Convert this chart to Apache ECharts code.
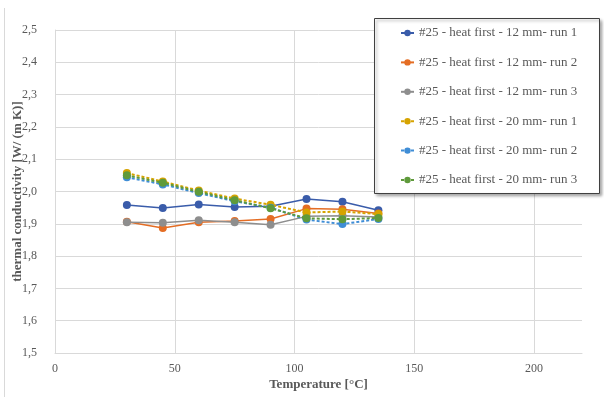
<!DOCTYPE html>
<html>
<head>
<meta charset="utf-8">
<script src="https://cdn.jsdelivr.net/npm/echarts@6/dist/echarts.min.js"></script>
<style>
  html, body { margin: 0; padding: 0; background: #ffffff; }
  #chart { width: 604px; height: 397px; }
</style>
</head>
<body>
<div id="chart"></div>
<script>
// Measurement temperatures [°C]
const temperatures = [30, 45, 60, 75, 90, 105, 120, 135];

// Thermal conductivity [W/(m K)] per run
const heat12Run1 = [1.958, 1.949, 1.960, 1.952, 1.954, 1.977, 1.968, 1.942];
const heat12Run2 = [1.906, 1.887, 1.905, 1.909, 1.915, 1.947, 1.945, 1.932];
const heat12Run3 = [1.905, 1.903, 1.911, 1.905, 1.897, 1.923, 1.925, 1.921];
const heat20Run1 = [2.057, 2.031, 2.003, 1.978, 1.959, 1.935, 1.938, 1.930];
const heat20Run2 = [2.044, 2.022, 1.995, 1.970, 1.950, 1.913, 1.899, 1.915];
const heat20Run3 = [2.050, 2.027, 1.999, 1.973, 1.948, 1.917, 1.914, 1.918];

const seriesNames = [
  '#25 - heat first - 12 mm- run 1',
  '#25 - heat first - 12 mm- run 2',
  '#25 - heat first - 12 mm- run 3',
  '#25 - heat first - 20 mm- run 1',
  '#25 - heat first - 20 mm- run 2',
  '#25 - heat first - 20 mm- run 3'
];
const seriesValues = [heat12Run1, heat12Run2, heat12Run3, heat20Run1, heat20Run2, heat20Run3];
const seriesColors = ['#3a5caa', '#e46d24', '#8e8e8e', '#d6a300', '#3f8dd6', '#5f9a3b'];
const dashedSeries = [false, false, false, true, true, true];

// Axis ticks
const xTicks = [0, 50, 100, 150, 200];
const yTicks = [1.5, 1.6, 1.7, 1.8, 1.9, 2.0, 2.1, 2.2, 2.3, 2.4, 2.5];

const fontFamily = '"Liberation Serif", "DejaVu Serif", serif';
const textGray = '#595959';
const gridGray = '#d9d9d9';

const chart = echarts.init(document.getElementById('chart'), null, { renderer: 'canvas' });

const series = seriesValues.map((vals, i) => ({
  name: seriesNames[i],
  type: 'line',
  data: temperatures.map((t, k) => [t, vals[k]]),
  symbol: 'circle',
  symbolSize: 8,
  showSymbol: true,
  itemStyle: { color: seriesColors[i] },
  lineStyle: {
    color: seriesColors[i],
    width: dashedSeries[i] ? 2 : 1.5,
    type: dashedSeries[i] ? [3, 2] : 'solid'
  },
  emphasis: { disabled: true },
  animation: false,
  z: 2 + i
}));

chart.setOption({
  animation: false,
  backgroundColor: '#ffffff',
  textStyle: { fontFamily: fontFamily },
  grid: { left: 55, right: 22, top: 30, bottom: 44, containLabel: false, outerBoundsMode: 'none' },
  xAxis: {
    type: 'value',
    min: xTicks[0],
    max: 220,
    interval: xTicks[1] - xTicks[0],
    name: 'Temperature [°C]',
    nameLocation: 'middle',
    nameGap: 25,
    nameMoveOverlap: false,
    nameTextStyle: { color: textGray, fontWeight: 'bold', fontSize: 13, fontFamily: fontFamily },
    axisLine: { show: true, lineStyle: { color: gridGray, width: 1 } },
    axisTick: { show: false },
    axisLabel: {
      color: textGray, fontSize: 12, fontFamily: fontFamily, margin: 10,
      showMaxLabel: false,
      formatter: v => (xTicks.indexOf(v) >= 0 ? String(v) : '')
    },
    splitLine: { show: true, showMaxLine: false, lineStyle: { color: gridGray, width: 1 } }
  },
  yAxis: {
    type: 'value',
    min: yTicks[0],
    max: yTicks[yTicks.length - 1],
    interval: 0.1,
    name: 'thermal conductivity [W/ (m K)]',
    nameLocation: 'middle',
    nameGap: 31,
    nameRotate: 90,
    nameMoveOverlap: false,
    nameTextStyle: { color: textGray, fontWeight: 'bold', fontSize: 13, fontFamily: fontFamily },
    axisLine: { show: true, lineStyle: { color: gridGray, width: 1 } },
    axisTick: { show: false },
    axisLabel: {
      color: textGray, fontSize: 12, fontFamily: fontFamily, margin: 18,
      formatter: v => v.toFixed(1).replace('.', ',')
    },
    splitLine: { show: true, lineStyle: { color: gridGray, width: 1 } }
  },
  legend: {
    orient: 'vertical',
    left: 400,
    top: 26,
    padding: 0,
    itemWidth: 13,
    itemHeight: 8,
    itemGap: 15.4,
    selectedMode: false,
    textStyle: { color: textGray, fontSize: 13, fontFamily: fontFamily, lineHeight: 14 },
    data: seriesNames,
    z: 6
  },
  graphic: [
    {
      type: 'line',
      shape: { x1: 4.5, y1: 8, x2: 4.5, y2: 397 },
      style: { stroke: gridGray, lineWidth: 1 },
      silent: true
    },
    {
      type: 'rect',
      shape: { x: 374.5, y: 18.5, width: 225, height: 175 },
      style: {
        fill: '#ffffff',
        stroke: '#404040',
        lineWidth: 1,
        shadowColor: 'rgba(0,0,0,0.35)',
        shadowBlur: 3,
        shadowOffsetX: 2,
        shadowOffsetY: 2
      },
      z: 5,
      silent: true
    }
  ],
  series: series
});
</script>
</body>
</html>
